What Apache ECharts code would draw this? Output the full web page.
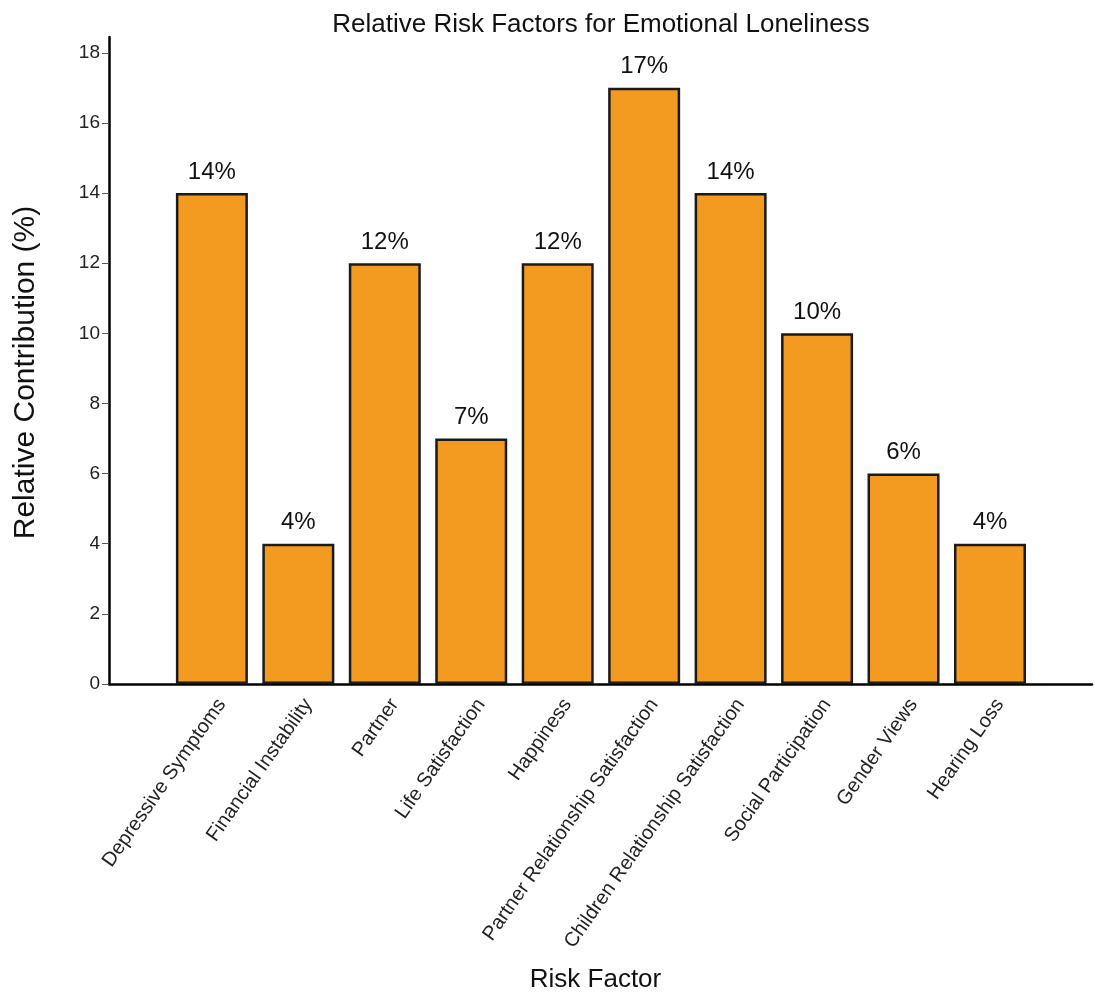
<!DOCTYPE html>
<html>
<head>
<meta charset="utf-8">
<script src="https://cdn.jsdelivr.net/npm/echarts@6/dist/echarts.min.js"></script>
<style>
  html, body { margin: 0; padding: 0; background: #fff; }
  #chart { width: 1096px; height: 993px; }
</style>
</head>
<body>
<div id="chart"></div>
<script>
// Risk factor categories and their relative contribution (%)
const categories = [
  'Depressive Symptoms',
  'Financial Instability',
  'Partner',
  'Life Satisfaction',
  'Happiness',
  'Partner Relationship Satisfaction',
  'Children Relationship Satisfaction',
  'Social Participation',
  'Gender Views',
  'Hearing Loss'
];
const contributions = [14, 4, 12, 7, 12, 17, 14, 10, 6, 4];
const yTicks = [0, 2, 4, 6, 8, 10, 12, 14, 16, 18];

const FONT = '"Liberation Sans", Arial, Helvetica, sans-serif';
const positions = categories.map((_, i) => i);

const chart = echarts.init(document.getElementById('chart'), null, { renderer: 'canvas' });

chart.setOption({
  backgroundColor: '#ffffff',
  animation: false,
  textStyle: { fontFamily: FONT },
  title: {
    text: 'Relative Risk Factors for Emotional Loneliness',
    left: 596,
    top: 7,
    textAlign: 'center',
    textStyle: { fontFamily: FONT, fontSize: 26, fontWeight: 'normal', color: '#111' }
  },
  grid: { left: 109, right: 4, top: 37, bottom: 309, outerBoundsMode: 'none', containLabel: false },
  xAxis: {
    type: 'value',
    min: -1.19,
    max: 10.18,
    name: 'Risk Factor',
    nameLocation: 'middle',
    nameGap: 283,
    nameTextStyle: { fontFamily: FONT, fontSize: 26, color: '#111', padding: [0, 10, 0, 0] },
    axisLine: { show: true, onZero: false, lineStyle: { color: '#000', width: 2.5 } },
    axisTick: { show: false },
    splitLine: { show: false },
    axisLabel: {
      customValues: positions,
      rotate: 55,
      margin: 10,
      fontSize: 20,
      lineHeight: 24,
      color: '#222',
      fontFamily: FONT,
      // leading blank line nudges each rotated label below-right of its bar
      formatter: v => '\n' + categories[Math.round(v)]
    }
  },
  yAxis: {
    type: 'value',
    min: 0,
    max: 18.45,
    name: 'Relative Contribution (%)',
    nameLocation: 'middle',
    nameGap: 68,
    nameTextStyle: { fontFamily: FONT, fontSize: 30, color: '#111', padding: [0, 24, 0, 0] },
    axisLine: { show: true, onZero: false, lineStyle: { color: '#000', width: 2.5 } },
    axisTick: { show: true, customValues: yTicks, length: 7, lineStyle: { color: '#555', width: 1 } },
    splitLine: { show: false },
    axisLabel: {
      customValues: yTicks,
      margin: 9,
      fontSize: 19,
      color: '#222',
      fontFamily: FONT
    }
  },
  series: [{
    type: 'bar',
    data: contributions.map((v, i) => [i, v]),
    barWidth: 72,
    itemStyle: { color: '#F39A21', borderColor: '#1a1a1a', borderWidth: 2.5 },
    label: {
      show: true,
      position: 'top',
      distance: 9,
      fontSize: 24,
      color: '#111',
      fontFamily: FONT,
      formatter: p => p.value[1] + '%'
    }
  }]
});
</script>
</body>
</html>
